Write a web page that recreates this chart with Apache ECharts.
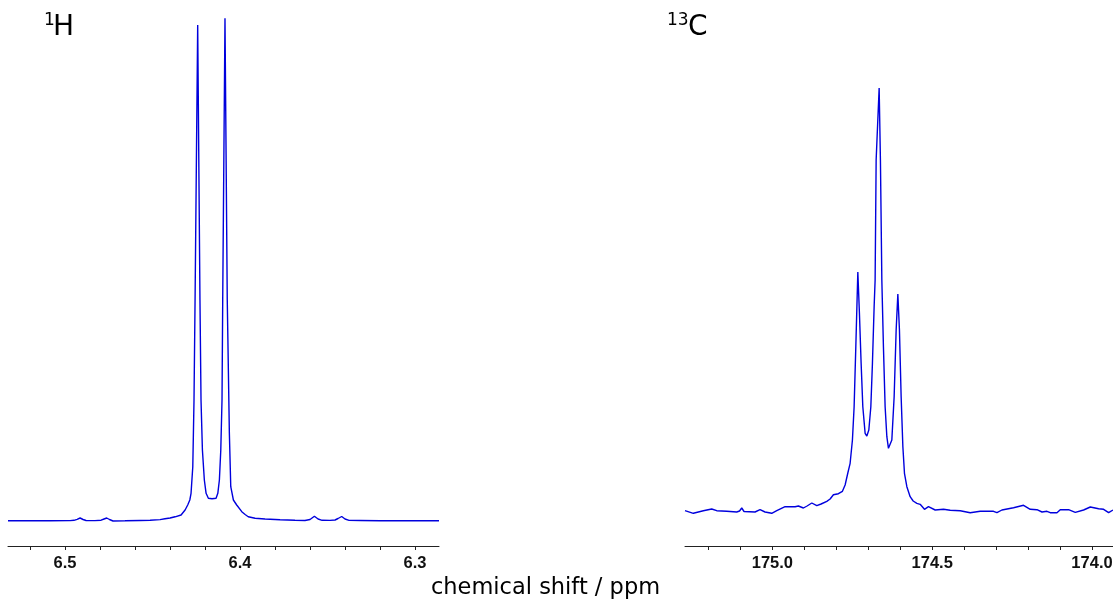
<!DOCTYPE html>
<html>
<head>
<meta charset="utf-8">
<script src="https://cdn.jsdelivr.net/npm/echarts@6/dist/echarts.min.js"></script>
<style>
html,body{margin:0;padding:0;background:#fff;}
#chart{width:1113px;height:600px;}
</style>
</head>
<body>
<div id="chart"></div>
<script>
// 1H spectrum (chemical shift in ppm, intensity in arbitrary units)
const h1Shift = [6.5326, 6.52, 6.5086, 6.4971, 6.4949, 6.4931, 6.4914, 6.4897, 6.488, 6.4829, 6.4794, 6.4777, 6.4762, 6.4746, 6.4726, 6.4657, 6.4571, 6.4514, 6.4457, 6.4429, 6.44, 6.4371, 6.4337, 6.4314, 6.4299, 6.4287, 6.428, 6.427, 6.4263, 6.4257, 6.4242, 6.4229, 6.4223, 6.4215, 6.4204, 6.4194, 6.4181, 6.4171, 6.416, 6.4149, 6.4137, 6.4127, 6.4118, 6.411, 6.4103, 6.4099, 6.4086, 6.4073, 6.4061, 6.4053, 6.4038, 6.4019, 6.399, 6.3971, 6.3953, 6.3914, 6.3857, 6.3771, 6.3686, 6.3629, 6.36, 6.3575, 6.3554, 6.3531, 6.3486, 6.3457, 6.344, 6.3419, 6.34, 6.3377, 6.3314, 6.32, 6.3086, 6.2971, 6.2863];
const h1Intensity = [0, -0.02, 0, 0.02, 0.08, 0.28, 0.54, 0.24, 0.04, 0.02, 0.1, 0.34, 0.54, 0.24, -0.06, -0.02, 0.04, 0.08, 0.22, 0.38, 0.54, 0.78, 1.14, 2.14, 3.14, 4.14, 5.48, 10.8, 24.14, 44.14, 99.14, 44.14, 24.14, 14.14, 8.14, 5.48, 4.48, 4.28, 4.38, 4.24, 4.48, 5.48, 8.14, 14.14, 24.14, 44.14, 100.48, 44.14, 17.54, 6.8, 4.14, 3.14, 1.8, 1.24, 0.8, 0.48, 0.34, 0.2, 0.08, 0.04, 0.24, 0.88, 0.34, 0.08, 0.06, 0.14, 0.44, 0.84, 0.34, 0.06, 0.04, 0, -0.02, 0.02, 0];

// 13C spectrum
const c13Shift = [175.2733, 175.2473, 175.216, 175.1897, 175.1741, 175.1428, 175.1115, 175.1027, 175.0958, 175.0886, 175.0855, 175.0542, 175.0385, 175.0229, 175.0019, 174.9862, 174.9602, 174.9289, 174.9186, 174.9029, 174.8914, 174.8766, 174.861, 174.8475, 174.8297, 174.8193, 174.809, 174.7934, 174.7808, 174.7724, 174.7639, 174.7567, 174.7495, 174.7442, 174.7389, 174.7326, 174.7276, 174.7223, 174.717, 174.7098, 174.7044, 174.6982, 174.6919, 174.6869, 174.6816, 174.6785, 174.6753, 174.6659, 174.6619, 174.6575, 174.6525, 174.6472, 174.6418, 174.6368, 174.6315, 174.6262, 174.619, 174.6127, 174.6074, 174.6024, 174.5971, 174.5917, 174.5867, 174.5792, 174.5689, 174.5595, 174.5479, 174.5376, 174.5241, 174.5116, 174.5063, 174.4906, 174.4646, 174.4436, 174.4123, 174.381, 174.3497, 174.3081, 174.2974, 174.2818, 174.2455, 174.2141, 174.1932, 174.1722, 174.1565, 174.1409, 174.1306, 174.1096, 174.0993, 174.0733, 174.0523, 174.0263, 174.0053, 173.9793, 173.9637, 173.948, 173.9343];
const c13Intensity = [0.26, -0.26, 0.26, 0.6, 0.26, 0.14, 0, 0.2, 0.8, 0.1, 0, 0, 0.46, 0, -0.26, 0.26, 1.06, 1.06, 1.2, 0.8, 1.2, 1.8, 1.26, 1.6, 2.14, 2.6, 3.46, 3.66, 4.14, 5.4, 7.8, 9.74, 14.4, 21.06, 33.06, 48, 39.74, 29.74, 21.06, 15.74, 15.2, 16.4, 21.06, 29.74, 41.06, 46.4, 70.4, 84.8, 70.4, 46.4, 33.06, 21.06, 15.06, 12.74, 12.54, 14.4, 23.06, 36.4, 43.6, 36.4, 23.06, 13.06, 7.74, 5.06, 3.06, 2.2, 1.74, 1.54, 0.54, 1.06, 1.06, 0.4, 0.54, 0.34, 0.26, -0.14, 0.14, 0.14, -0.14, 0.4, 0.86, 1.34, 0.54, 0.46, 0, 0.14, -0.14, -0.14, 0.46, 0.46, -0.06, 0.4, 1.0, 0.66, 0.54, -0.14, 0.4];

// axis ticks and labels
const h1Ticks = [6.52, 6.50, 6.48, 6.46, 6.44, 6.42, 6.40, 6.38, 6.36, 6.34, 6.32, 6.30];
const h1TickLabels = [6.5, 6.4, 6.3];
const c13Ticks = [175.2, 175.1, 175.0, 174.9, 174.8, 174.7, 174.6, 174.5, 174.4, 174.3, 174.2, 174.1, 174.0];
const c13TickLabels = [175.0, 174.5, 174.0];

const h1Range = [6.2863, 6.5326];
const c13Range = [173.9343, 175.2733];

const lineColor = '#0000dd';
const labelFont = {fontFamily: 'Liberation Sans, Arial, sans-serif', fontWeight: 'bold', fontSize: 16.5, color: '#111'};

function xAx(idx, range, ticks, labels) {
  return {
    type: 'value', gridIndex: idx, inverse: true, min: range[0], max: range[1],
    axisLine: {show: true, onZero: false, lineStyle: {color: '#222', width: 1}},
    axisTick: {show: true, length: 4, customValues: ticks, lineStyle: {color: '#222', width: 1}},
    axisLabel: Object.assign({show: true, margin: 9, customValues: labels, hideOverlap: false,
      formatter: v => Number(v).toFixed(1)}, labelFont),
    splitLine: {show: false}
  };
}

const chart = echarts.init(document.getElementById('chart'), null, {renderer: 'canvas'});
chart.setOption({
  animation: false,
  backgroundColor: '#fff',
  grid: [
    {left: 8, top: 10, width: 431, height: 536, containLabel: false, outerBoundsMode: 'none'},
    {left: 685, top: 10, width: 428, height: 536, containLabel: false, outerBoundsMode: 'none'}
  ],
  xAxis: [xAx(0, h1Range, h1Ticks, h1TickLabels), xAx(1, c13Range, c13Ticks, c13TickLabels)],
  yAxis: [
    {type: 'value', gridIndex: 0, min: -5.06, max: 102.14, show: false},
    {type: 'value', gridIndex: 1, min: -6.8, max: 100.4, show: false}
  ],
  series: [
    {type: 'line', xAxisIndex: 0, yAxisIndex: 0, showSymbol: false, symbol: 'none',
     lineStyle: {color: lineColor, width: 1.4}, data: h1Shift.map((s, i) => [s, h1Intensity[i]])},
    {type: 'line', xAxisIndex: 1, yAxisIndex: 1, showSymbol: false, symbol: 'none',
     lineStyle: {color: lineColor, width: 1.4}, data: c13Shift.map((s, i) => [s, c13Intensity[i]])}
  ],
  graphic: [
    {type: 'text', x: 44, y: 21, style: {text: '1', font: '17px "DejaVu Sans"', fill: '#000', textAlign: 'left', textVerticalAlign: 'middle'}},
    {type: 'text', x: 53, y: 28, style: {text: 'H', font: '28px "DejaVu Sans"', fill: '#000', textAlign: 'left', textVerticalAlign: 'middle'}},
    {type: 'text', x: 667, y: 21, style: {text: '13', font: '17px "DejaVu Sans"', fill: '#000', textAlign: 'left', textVerticalAlign: 'middle'}},
    {type: 'text', x: 688, y: 28, style: {text: 'C', font: '28px "DejaVu Sans"', fill: '#000', textAlign: 'left', textVerticalAlign: 'middle'}},
    {type: 'text', x: 545.5, y: 588, style: {text: 'chemical shift / ppm', font: '22.5px "DejaVu Sans"', fill: '#000', textAlign: 'center', textVerticalAlign: 'middle'}}
  ]
});
</script>
</body>
</html>
